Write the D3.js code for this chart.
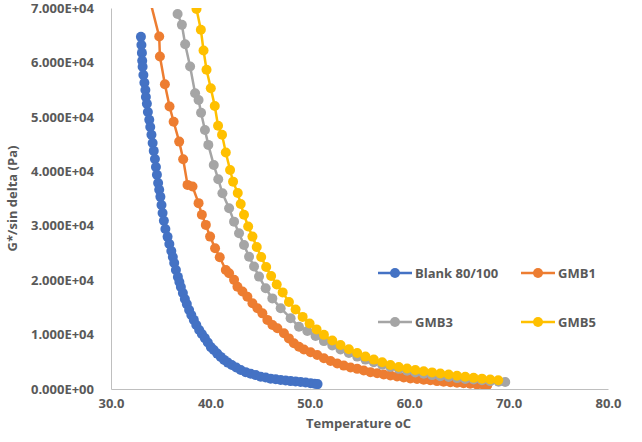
<!DOCTYPE html>
<html>
<head>
<meta charset="utf-8">
<script src="https://cdn.jsdelivr.net/npm/d3@7"></script>
<style>
  body { margin: 0; background: #fff; }
  text { font-family: "Open Sans", sans-serif; fill: #595959; }
</style>
</head>
<body>
<div id="chart"></div>
<script>
var w = 642, h = 442;
var margin = { left: 111, right: 34, top: 8, bottom: 53 };

// temperature (oC), G*/sin delta (Pa)
var blankData = [
  [33.01, 64700], [33.06, 63200], [33.11, 61750], [33.14, 60300], [33.18, 59200],
  [33.26, 57700], [33.36, 56250], [33.46, 54950], [33.51, 53650], [33.61, 52400],
  [33.71, 50900], [33.85, 49450], [33.95, 48150], [34.07, 46700], [34.19, 45200],
  [34.30, 43750], [34.42, 42250], [34.52, 40800], [34.62, 39350], [34.74, 37850],
  [34.85, 36600], [34.97, 35300], [35.08, 33800], [35.19, 32350], [35.32, 30900],
  [35.47, 29400], [35.69, 27950], [35.87, 26650], [36.07, 25350], [36.22, 24250],
  [36.36, 23150], [36.53, 21850], [36.73, 20600], [36.88, 19650], [37.03, 18750],
  [37.23, 17650], [37.43, 16550], [37.63, 15600], [37.86, 14500], [38.08, 13600],
  [38.33, 12700], [38.58, 11750], [38.87, 10850], [39.14, 10100], [39.44, 9350],
  [39.74, 8550], [40.04, 7700], [40.34, 7150], [40.69, 6500], [41.04, 5900],
  [41.38, 5350], [41.75, 4850], [42.15, 4400], [42.60, 3950], [43.05, 3500],
  [43.55, 3100], [44.06, 2800], [44.56, 2550], [45.06, 2250], [45.56, 2100],
  [46.06, 1900], [46.57, 1800], [47.07, 1650], [47.57, 1550], [48.07, 1450],
  [48.57, 1400], [49.08, 1300], [49.58, 1200], [50.08, 1050], [50.48, 950],
  [50.78, 900]
];

var gmb1Data = [
  [33.66, 73300], [34.85, 64750], [34.92, 61100], [35.42, 56000], [35.89, 51900],
  [36.30, 49100], [36.86, 45450], [37.26, 42200], [37.70, 37500], [38.20, 37200],
  [38.81, 34150], [39.14, 32000], [39.54, 30150], [39.97, 28000], [40.47, 25850],
  [40.94, 24200], [41.55, 21850], [41.88, 21250], [42.38, 20050], [42.72, 18800],
  [43.22, 17900], [43.72, 16950], [44.23, 15750], [44.73, 14850], [45.23, 13900],
  [45.73, 12700], [46.24, 11750], [46.74, 11150], [47.40, 10250], [47.90, 9300],
  [48.40, 8400], [48.91, 7750], [49.41, 7250], [50.08, 6750], [50.75, 6250],
  [51.42, 5650], [52.09, 5150], [52.76, 4700], [53.42, 4300], [54.10, 3950],
  [54.77, 3700], [55.43, 3400], [56.10, 3100], [56.78, 2900], [57.44, 2650],
  [58.11, 2500], [58.78, 2300], [59.45, 2100], [60.12, 1950], [60.79, 1850],
  [61.46, 1700], [62.13, 1600], [62.80, 1450], [63.46, 1350], [64.14, 1250],
  [64.81, 1150], [65.47, 1050], [66.14, 950], [66.82, 850], [67.48, 750],
  [67.85, 700]
];

var gmb3Data = [
  [36.70, 68900], [37.13, 66900], [37.46, 63350], [37.96, 59250], [38.46, 54350],
  [38.81, 53100], [39.06, 50750], [39.45, 47600], [39.79, 44850], [40.34, 41150],
  [40.79, 38550], [41.21, 35950], [41.88, 33200], [42.38, 30750], [42.88, 28600],
  [43.38, 26450], [43.89, 24300], [44.39, 22500], [44.89, 20650], [45.56, 18500],
  [46.23, 16650], [47.07, 14850], [48.07, 13000], [48.91, 11450], [49.75, 10650],
  [50.58, 9750], [51.42, 8800], [52.26, 8000], [53.09, 7250], [53.93, 6600],
  [54.77, 5950], [55.60, 5400], [56.44, 4900], [57.28, 4450], [58.11, 4050],
  [58.95, 3700], [59.79, 3350], [60.62, 3050], [61.46, 2800], [62.30, 2550],
  [63.13, 2350], [63.97, 2200], [64.81, 2000], [65.64, 1850], [66.48, 1750],
  [67.32, 1600], [68.15, 1450], [68.99, 1350], [69.66, 1300]
];

var gmb5Data = [
  [38.60, 69800], [39.04, 66000], [39.31, 62200], [39.61, 58650], [40.04, 55250],
  [40.44, 52000], [40.77, 48350], [41.17, 46700], [41.55, 43450], [41.98, 40250],
  [42.28, 38100], [42.75, 36000], [43.05, 34000], [43.38, 32000], [43.80, 29850],
  [44.23, 28000], [44.66, 26100], [45.11, 24250], [45.61, 22400], [46.11, 20750],
  [46.67, 19200], [47.27, 17750], [47.90, 16000], [48.57, 14600], [49.28, 13250],
  [49.98, 12050], [50.68, 10950], [51.42, 9950], [52.26, 8900], [53.09, 8100],
  [53.93, 7300], [54.77, 6600], [55.60, 5950], [56.44, 5400], [57.28, 4900],
  [58.11, 4400], [58.95, 4050], [59.79, 3750], [60.62, 3500], [61.46, 3250],
  [62.30, 3050], [63.13, 2850], [63.97, 2650], [64.81, 2450], [65.64, 2250],
  [66.48, 2050], [67.32, 1900], [68.15, 1750], [68.96, 1600]
];

var seriesNames = ["Blank 80/100", "GMB1", "GMB3", "GMB5"];
var seriesColors = ["#4472C4", "#ED7D31", "#A5A5A5", "#FFC000"];
var seriesData = [blankData, gmb1Data, gmb3Data, gmb5Data];

var xTicks = [30, 40, 50, 60, 70, 80];
var yTicks = [0, 10000, 20000, 30000, 40000, 50000, 60000, 70000];
var yTickLabels = ["0.000E+00", "1.000E+04", "2.000E+04", "3.000E+04",
  "4.000E+04", "5.000E+04", "6.000E+04", "7.000E+04"];

var xScale = d3.scaleLinear()
  .domain([30, 80])
  .range([margin.left, w - margin.right]);

var yScale = d3.scaleLinear()
  .domain([0, 70000])
  .range([h - margin.bottom, margin.top]);

var svg = d3.select("#chart")
  .append("svg")
  .attr("width", w)
  .attr("height", h);

// Axes
var xAxis = d3.axisBottom(xScale)
  .tickValues(xTicks)
  .tickSize(0)
  .tickPadding(10)
  .tickFormat(d3.format(".1f"));

var yAxis = d3.axisLeft(yScale)
  .tickValues(yTicks)
  .tickSize(0)
  .tickPadding(17)
  .tickFormat(function(d, i) { return yTickLabels[i]; });

svg.append("g")
  .attr("transform", "translate(0," + (h - margin.bottom) + ")")
  .call(xAxis);

svg.append("g")
  .attr("transform", "translate(" + margin.left + ",0)")
  .call(yAxis);

svg.selectAll(".domain").attr("stroke", "#BFBFBF").attr("stroke-width", 1);
svg.selectAll(".tick text")
  .style("font-size", "13px")
  .style("font-weight", "700")
  .attr("fill", "#595959");

// Axis titles
svg.append("text")
  .attr("x", (xScale(30) + xScale(80)) / 2 - 1)
  .attr("y", 428)
  .attr("text-anchor", "middle")
  .style("font-size", "13px")
  .style("font-weight", "700")
  .text("Temperature oC");

svg.append("text")
  .attr("transform", "translate(17," + ((yScale(0) + yScale(70000)) / 2) + ") rotate(-90)")
  .attr("text-anchor", "middle")
  .style("font-size", "13px")
  .style("font-weight", "700")
  .text("G*/sin delta (Pa)");

// Clip to plot area
svg.append("clipPath")
  .attr("id", "plot-clip")
  .append("rect")
  .attr("x", margin.left)
  .attr("y", margin.top)
  .attr("width", w - margin.left - margin.right)
  .attr("height", h - margin.top - margin.bottom);

var line = d3.line()
  .x(function(d) { return xScale(d[0]); })
  .y(function(d) { return yScale(d[1]); });

var plot = svg.append("g").attr("clip-path", "url(#plot-clip)");

seriesData.forEach(function(data, i) {
  var g = plot.append("g");
  g.append("path")
    .datum(data)
    .attr("fill", "none")
    .attr("stroke", seriesColors[i])
    .attr("stroke-width", 2.5)
    .attr("d", line);
  g.selectAll("circle")
    .data(data)
    .enter()
    .append("circle")
    .attr("cx", function(d) { return xScale(d[0]); })
    .attr("cy", function(d) { return yScale(d[1]); })
    .attr("r", 5)
    .attr("fill", seriesColors[i]);
});

// Legend
var legendPos = [[378, 273], [521, 273], [378, 322], [521, 322]];
var legend = svg.append("g");
seriesNames.forEach(function(name, i) {
  var p = legendPos[i];
  var item = legend.append("g").attr("transform", "translate(" + p[0] + "," + p[1] + ")");
  item.append("line")
    .attr("x1", 0).attr("x2", 34)
    .attr("y1", 0).attr("y2", 0)
    .attr("stroke", seriesColors[i])
    .attr("stroke-width", 2.5);
  item.append("circle")
    .attr("cx", 17).attr("cy", 0).attr("r", 5)
    .attr("fill", seriesColors[i]);
  item.append("text")
    .attr("x", 37)
    .attr("y", 0)
    .attr("dy", "0.35em")
    .style("font-size", "13px")
    .style("font-weight", "700")
    .text(name);
});
</script>
</body>
</html>
